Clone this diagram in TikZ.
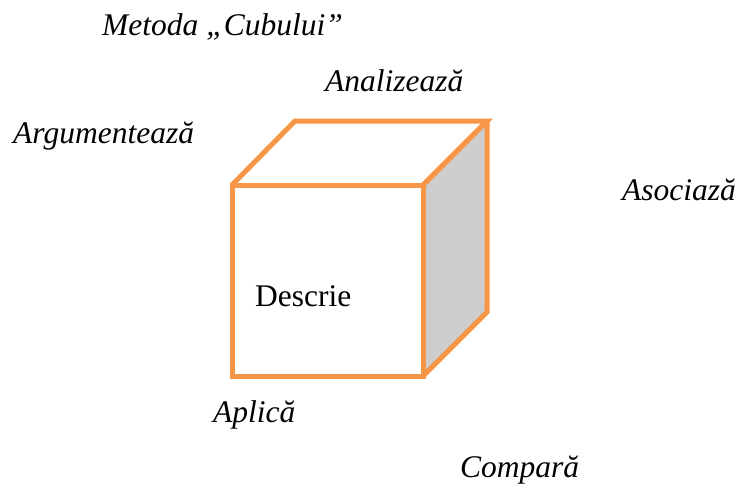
\documentclass[tikz,border=0pt]{standalone}
\usepackage{fontspec}
\setmainfont{Liberation Serif}
\definecolor{cubeorange}{HTML}{F79646}
\definecolor{cubegrey}{HTML}{CDCDCD}
\begin{document}
\begin{tikzpicture}[x=1pt,y=-1pt,
  lbl/.style={anchor=base west,inner sep=0pt,font=\fontsize{31.5}{36}\selectfont\itshape},
  edge/.style={draw=cubeorange,line width=5pt,line join=miter}]
\useasboundingbox (0,0) rectangle (739,483);
\coordinate (FTL) at (232,185);
\coordinate (FTR) at (423,185);
\coordinate (FBR) at (423,376);
\coordinate (FBL) at (232,376);
\coordinate (BTL) at (295,121);
\coordinate (BTR) at (487,121);
\coordinate (BBR) at (487,312);
\fill[cubegrey] (FTR) -- (BTR) -- (BBR) -- (FBR) -- cycle;
\draw[edge] (FTL) -- (FTR) -- (FBR) -- (FBL) -- cycle;
\draw[edge] (FTL) -- (BTL) -- (BTR) -- (FTR);
\draw[edge] (BTR) -- (BBR) -- (FBR);
\node[lbl] (title) at (102,35) {Metoda „Cubului”};
\node[lbl] (analiz) at (325,91) {Analizează};
\node[lbl] (argum) at (13,143) {Argumentează};
\node[lbl] (asoc) at (622,200) {Asociază};
\node[lbl,font=\fontsize{31.5}{36}\selectfont\upshape] (descr) at (255,306) {Descrie};
\node[lbl] (aplic) at (213,422) {Aplică};
\node[lbl] (compar) at (460,477) {Compară};
\end{tikzpicture}
\end{document}
